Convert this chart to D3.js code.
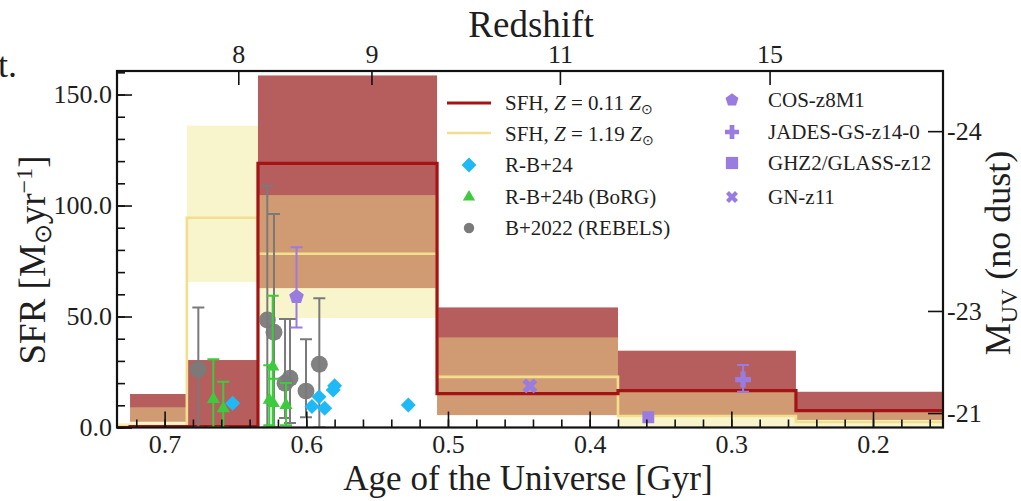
<!DOCTYPE html>
<html>
<head>
<meta charset="utf-8">
<script src="https://d3js.org/d3.v7.min.js"></script>
<style>
  body { margin: 0; background: #fff; }
  text { font-family: 'Liberation Serif', 'Times New Roman', serif; fill: #1e1e1e; }
  .axis path { display: none; }
  .axis line { stroke: #111; stroke-width: 1.6; }
  .axis text { font-size: 26px; font-family: 'Liberation Serif', serif; fill: #1e1e1e; }
</style>
</head>
<body>
<div id="chart"></div>
<script>
// SFH bins, age of the Universe in Gyr (left edge of each bin, plus last right edge)
var binEdges = [0.76, 0.7244, 0.6843, 0.6341, 0.5077, 0.3800, 0.2544, 0.14];

// SFH, Z = 0.11 Zsun
var lowZMed = [0, 0.4, 0.4, 119, 15.3, 16.6, 7.6];
var lowZLo  = [0, 2.6, 0, 62.8, 5.6, 5.2, 3.4];
var lowZHi  = [0, 15.1, 30.4, 158.6, 54.1, 34.6, 16.1];

// SFH, Z = 1.19 Zsun
var highZMed = [0.6, 0.6, 94.5, 78.3, 22.8, 5.2, 2.5];
var highZLo  = [0, 0, 65.6, 49.3, 5.6, 0, 0];
var highZHi  = [2, 9.1, 136, 104.7, 40.6, 16.2, 7.8];

// R-B+24
var rb24Age = [0.652, 0.596, 0.591, 0.587, 0.581, 0.580, 0.528];
var rb24Sfr = [10.9, 9.5, 13.8, 8.7, 16.9, 18.8, 10.1];

// R-B+24b (BoRG)
var borgAge = [0.6656, 0.6586, 0.6237, 0.6261, 0.6233, 0.6143];
var borgSfr = [12.7, 8.6, 27.4, 12.4, 10.9, 10.1];
var borgLo  = [0, 0, 0, 1, 0, 1];
var borgHi  = [30.7, 20.6, 59.4, 28, 22, 20];

// B+2022 (REBELS)
var rebelsAge = [0.6762, 0.6275, 0.6228, 0.6150, 0.6115, 0.6002, 0.5908];
var rebelsSfr = [26.2, 48.4, 42.9, 19.9, 22.2, 16.4, 28.5];
var rebelsLo  = [0, 0, 0, 4.3, 2, 4.6, 0];
var rebelsHi  = [54.1, 108.9, 96.2, 48.9, 48.9, 39.7, 58.2];

// single galaxies
var galNames = ['COS-z8M1', 'JADES-GS-z14-0', 'GHZ2/GLASS-z12', 'GN-z11'];
var galAge = [0.6069, 0.2917, 0.3586, 0.4422];
var galSfr = [58.9, 21.6, 4.6, 18.7];
var galLo  = [45.1, 16.1, null, null];
var galHi  = [81.2, 28.2, null, null];

// axes
var ageTicks = [0.7, 0.6, 0.5, 0.4, 0.3, 0.2];
var sfrTicks = [0, 50, 100, 150];
var zLabels = ['8', '9', '11', '15'];
var zAges = [0.648, 0.554, 0.421, 0.273];
var muvLabels = ['-24', '-23', '-21'];
var muvSfr = [133.5, 52.5, 6.5];

var W = 1021, H = 501;
var pLeft = 117, pRight = 943, pTop = 71, pBottom = 427.5;

var red = '#8b0000', redAlpha = 0.63;
var yel = '#f0e68c', yelAlpha = 0.45;
var redLine = '#a31414', yelLine = '#f2df8e';
var cyan = '#1fb9f7', green = '#3dcb3d', grey = '#7a7a7a', purple = '#9a7be0';

var x = d3.scaleLinear().domain([0.7336, 0.1506]).range([pLeft, pRight]);
var y = d3.scaleLinear().domain([0, 160.6]).range([pBottom, pTop]);

var svg = d3.select('#chart').append('svg')
  .attr('width', W)
  .attr('height', H);

svg.append('clipPath').attr('id', 'plotclip')
  .append('rect')
  .attr('x', pLeft).attr('y', pTop)
  .attr('width', pRight - pLeft).attr('height', pBottom - pTop);

var plot = svg.append('g').attr('clip-path', 'url(#plotclip)');

function bands(lo, hi, color, alpha) {
  plot.append('g').selectAll('rect')
    .data(lo)
    .enter().append('rect')
    .attr('x', function(d, i) { return x(binEdges[i]); })
    .attr('width', function(d, i) { return x(binEdges[i + 1]) - x(binEdges[i]); })
    .attr('y', function(d, i) { return y(hi[i]); })
    .attr('height', function(d, i) { return y(lo[i]) - y(hi[i]); })
    .attr('fill', color)
    .attr('fill-opacity', alpha);
}

function stepLine(med, color, w) {
  var pts = med.map(function(d, i) { return [binEdges[i], d]; });
  pts.push([binEdges[med.length], med[med.length - 1]]);
  plot.append('path')
    .datum(pts)
    .attr('d', d3.line()
      .x(function(d) { return x(d[0]); })
      .y(function(d) { return y(d[1]); })
      .curve(d3.curveStepAfter))
    .attr('fill', 'none')
    .attr('stroke', color)
    .attr('stroke-width', w);
}

bands(lowZLo, lowZHi, red, redAlpha);
bands(highZLo, highZHi, yel, yelAlpha);
stepLine(highZMed, yelLine, 2.6);
stepLine(lowZMed, redLine, 3.2);

// error bars
function errorBars(ages, lo, hi, color) {
  var g = plot.append('g');
  ages.forEach(function(a, i) {
    if (lo[i] === null) return;
    var cx = x(a);
    g.append('line')
      .attr('x1', cx).attr('x2', cx)
      .attr('y1', y(lo[i])).attr('y2', y(hi[i]))
      .attr('stroke', color).attr('stroke-width', 2);
    [lo[i], hi[i]].forEach(function(v) {
      g.append('line')
        .attr('x1', cx - 6).attr('x2', cx + 6)
        .attr('y1', y(v)).attr('y2', y(v))
        .attr('stroke', color).attr('stroke-width', 2);
    });
  });
}

var pentagon = {
  draw: function(ctx, size) {
    var r = Math.sqrt(size / 2.378);
    for (var k = 0; k < 5; k++) {
      var t = -Math.PI / 2 + k * 2 * Math.PI / 5;
      if (k === 0) ctx.moveTo(r * Math.cos(t), r * Math.sin(t));
      else ctx.lineTo(r * Math.cos(t), r * Math.sin(t));
    }
    ctx.closePath();
  }
};

function marker(g, type, size, cx, cy, color, alpha) {
  var sym, rot = 0;
  if (type === 'diamond') { sym = d3.symbolSquare; rot = 45; }
  if (type === 'triangle') sym = d3.symbolTriangle;
  if (type === 'circle') sym = d3.symbolCircle;
  if (type === 'pentagon') sym = pentagon;
  if (type === 'plus') sym = d3.symbolCross;
  if (type === 'x') { sym = d3.symbolCross; rot = 45; }
  if (type === 'square') sym = d3.symbolSquare;
  g.append('path')
    .attr('d', d3.symbol().type(sym).size(size)())
    .attr('transform', 'translate(' + cx + ',' + cy + ') rotate(' + rot + ')')
    .attr('fill', color)
    .attr('fill-opacity', alpha || 1);
}

var galTypes = ['pentagon', 'plus', 'square', 'x'];

errorBars(rebelsAge, rebelsLo, rebelsHi, grey);
var pts = plot.append('g');
rebelsAge.forEach(function(a, i) { marker(pts, 'circle', 225, x(a), y(rebelsSfr[i]), grey, 0.95); });
errorBars(borgAge, borgLo, borgHi, green);
borgAge.forEach(function(a, i) { marker(pts, 'triangle', 75, x(a), y(borgSfr[i]), green); });
rb24Age.forEach(function(a, i) { marker(pts, 'diamond', 112, x(a), y(rb24Sfr[i]), cyan); });
errorBars(galAge, galLo, galHi, purple);
galAge.forEach(function(a, i) { marker(pts, galTypes[i], 140, x(a), y(galSfr[i]), purple); });

// axes
svg.append('g').attr('class', 'axis')
  .attr('transform', 'translate(' + pLeft + ',0)')
  .call(d3.axisLeft(y).tickValues(sfrTicks).tickSize(-15).tickPadding(5).tickFormat(d3.format('.1f')));
svg.append('g').attr('class', 'axis')
  .attr('transform', 'translate(' + pLeft + ',0)')
  .call(d3.axisLeft(y).tickValues(d3.range(0, 161, 10)).tickSize(-8).tickFormat(''));
svg.append('g').attr('class', 'axis')
  .attr('transform', 'translate(0,' + pBottom + ')')
  .call(d3.axisBottom(x).tickValues(ageTicks).tickSize(-16).tickPadding(7).tickFormat(d3.format('.1f')));
svg.append('g').attr('class', 'axis')
  .attr('transform', 'translate(0,' + pBottom + ')')
  .call(d3.axisBottom(x).tickValues(d3.range(0.16, 0.73, 0.02)).tickSize(-8).tickFormat(''));
svg.append('g').attr('class', 'axis')
  .attr('transform', 'translate(0,' + pTop + ')')
  .call(d3.axisTop(x).tickValues(zAges).tickSize(-14).tickPadding(8)
    .tickFormat(function(d, i) { return zLabels[i]; }));
svg.append('g').attr('class', 'axis')
  .attr('transform', 'translate(' + pRight + ',0)')
  .call(d3.axisRight(y).tickValues(muvSfr).tickSize(-15).tickPadding(4)
    .tickFormat(function(d, i) { return muvLabels[i]; }));

svg.append('rect')
  .attr('x', pLeft).attr('y', pTop)
  .attr('width', pRight - pLeft).attr('height', pBottom - pTop)
  .attr('fill', 'none').attr('stroke', '#111').attr('stroke-width', 2.2);

// axis titles
svg.append('text').attr('x', 531).attr('y', 37)
  .attr('text-anchor', 'middle').style('font-size', '37px').text('Redshift');
svg.append('text').attr('x', 528).attr('y', 490)
  .attr('text-anchor', 'middle').style('font-size', '35px').text('Age of the Universe [Gyr]');

var ylab = svg.append('text')
  .attr('transform', 'translate(45,260) rotate(-90)')
  .attr('text-anchor', 'middle').style('font-size', '37px');
ylab.append('tspan').text('SFR [M');
ylab.append('tspan').attr('dy', 6).style('font-size', '24px').text('\u2299');
ylab.append('tspan').attr('dy', -6).text('yr');
ylab.append('tspan').attr('dy', -13).style('font-size', '24px').text('\u22121');
ylab.append('tspan').attr('dy', 13).text(']');

var rlab = svg.append('text')
  .attr('transform', 'translate(1010,253) rotate(-90)')
  .attr('text-anchor', 'middle').style('font-size', '36px');
rlab.append('tspan').text('M');
rlab.append('tspan').attr('dy', 7).style('font-size', '24px').text('UV');
rlab.append('tspan').attr('dy', -7).text(' (no dust)');

// cropped leftover text at top left
svg.append('text').attr('x', 17).attr('y', 77)
  .attr('text-anchor', 'end').style('font-size', '36px').text('t.');

// legend
var leg = svg.append('g').style('font-size', '21px');
function sfhLabel(t, z) {
  t.append('tspan').text('SFH, ');
  t.append('tspan').style('font-style', 'italic').text('Z');
  t.append('tspan').text(' = ' + z + ' ');
  t.append('tspan').style('font-style', 'italic').text('Z');
  t.append('tspan').attr('dy', 4).style('font-size', '14px').text('\u2299');
}
leg.append('line').attr('x1', 447).attr('x2', 491).attr('y1', 103).attr('y2', 103)
  .attr('stroke', redLine).attr('stroke-width', 3);
sfhLabel(leg.append('text').attr('x', 505).attr('y', 110), '0.11');
leg.append('line').attr('x1', 447).attr('x2', 491).attr('y1', 133).attr('y2', 133)
  .attr('stroke', yelLine).attr('stroke-width', 2.6);
sfhLabel(leg.append('text').attr('x', 505).attr('y', 141), '1.19');

var col1 = [['diamond', 110, cyan, 'R-B+24', 165],
            ['triangle', 65, green, 'R-B+24b (BoRG)', 197],
            ['circle', 85, grey, 'B+2022 (REBELS)', 228]];
col1.forEach(function(r) {
  marker(leg, r[0], r[1], 469, r[4], r[2]);
  leg.append('text').attr('x', 505).attr('y', r[4] + 7).text(r[3]);
});
var col2Y = [100, 132, 163, 197];
var col2Size = [110, 110, 150, 90];
galNames.forEach(function(n, i) {
  marker(leg, galTypes[i], col2Size[i], 732, col2Y[i], purple);
  leg.append('text').attr('x', 768).attr('y', col2Y[i] + 7).text(n);
});
</script>
</body>
</html>
